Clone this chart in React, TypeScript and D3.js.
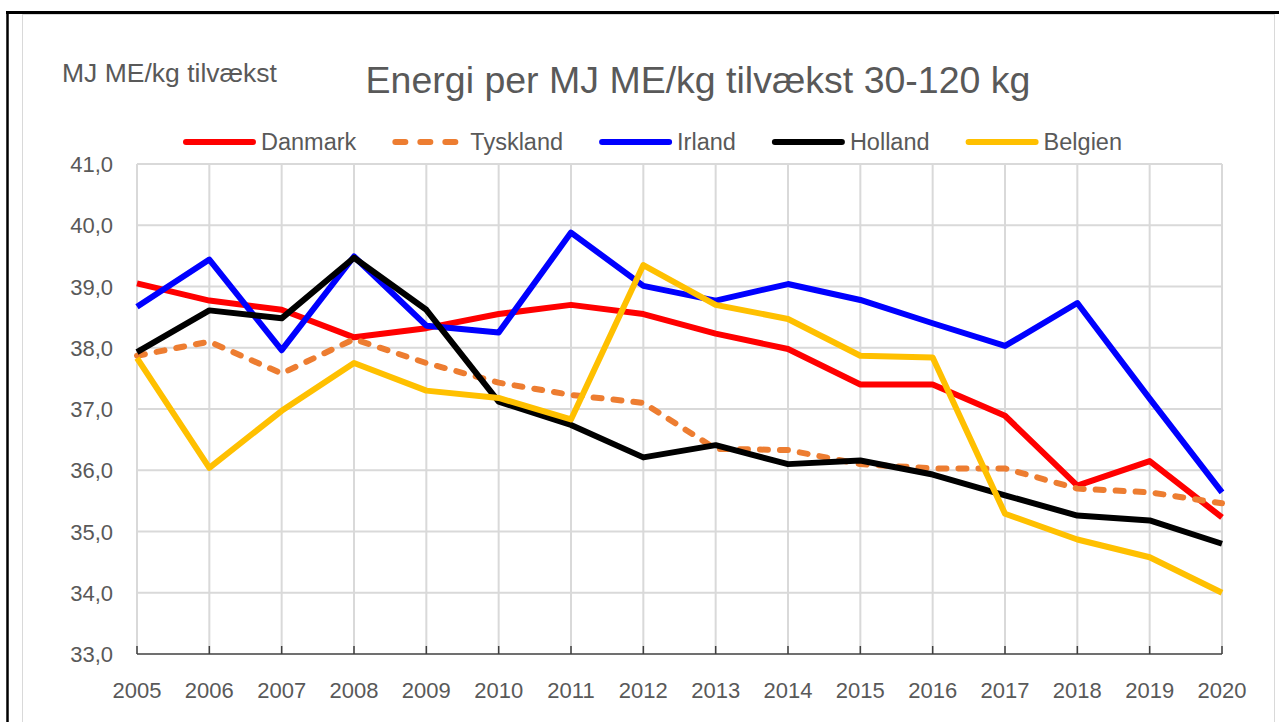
import * as React from "react";
import { useEffect, useRef } from "react";
import { select, scalePoint, scaleLinear, line } from "d3";

const years = [2005, 2006, 2007, 2008, 2009, 2010, 2011, 2012, 2013, 2014, 2015, 2016, 2017, 2018, 2019, 2020];

const danmark = [39.05, 38.77, 38.62, 38.17, 38.32, 38.55, 38.7, 38.55, 38.23, 37.98, 37.4, 37.4, 36.89, 35.75, 36.15, 35.23];
const tyskland = [37.87, 38.1, 37.58, 38.14, 37.75, 37.43, 37.23, 37.1, 36.35, 36.33, 36.1, 36.03, 36.03, 35.7, 35.64, 35.46];
const irland = [38.67, 39.44, 37.96, 39.49, 38.36, 38.25, 39.88, 39.01, 38.77, 39.04, 38.78, 38.4, 38.03, 38.73, 37.17, 35.64];
const holland = [37.93, 38.61, 38.48, 39.47, 38.62, 37.12, 36.74, 36.21, 36.41, 36.1, 36.16, 35.93, 35.59, 35.26, 35.18, 34.8];
const belgien = [37.83, 36.04, 36.97, 37.75, 37.3, 37.18, 36.83, 39.35, 38.7, 38.47, 37.87, 37.84, 35.29, 34.87, 34.58, 34.0];

const yTicks = [33, 34, 35, 36, 37, 38, 39, 40, 41];

const series = [
    {name: "Danmark", values: danmark, color: "#FF0000", dash: null},
    {name: "Tyskland", values: tyskland, color: "#ED7D31", dash: "8 12"},
    {name: "Irland", values: irland, color: "#0000FF", dash: null},
    {name: "Holland", values: holland, color: "#000000", dash: null},
    {name: "Belgien", values: belgien, color: "#FFC000", dash: null},
];

const font = "'Liberation Sans', Arial, sans-serif";
const textColor = "#595959";

const App: React.FC = () => {
    const node = useRef<SVGSVGElement>(null);
    const width = 1279, height = 722;
    const plot = {left: 137, right: 1222, top: 164, bottom: 654};

    useEffect(() => {
        if (!node.current) return;
        const svg = select(node.current);
        svg.selectAll("*").remove();

        // outer frame
        svg.append("rect").attr("x", 22.5).attr("y", 14.5).attr("width", 1252).attr("height", 720)
            .attr("fill", "#fff").attr("stroke", "#d9d9d9").attr("stroke-width", 1);
        svg.append("line").attr("x1", 6).attr("x2", width).attr("y1", 12.5).attr("y2", 12.5)
            .attr("stroke", "#000").attr("stroke-width", 3);
        svg.append("line").attr("x1", 7.5).attr("x2", 7.5).attr("y1", 11).attr("y2", height)
            .attr("stroke", "#000").attr("stroke-width", 2.5);

        const x = scalePoint<number>().domain(years).range([plot.left, plot.right]);
        const y = scaleLinear().domain([33, 41]).range([plot.bottom, plot.top]);

        const grid = svg.append("g");
        grid.selectAll("line.h").data(yTicks.slice(1)).join("line")
            .attr("x1", plot.left).attr("x2", plot.right)
            .attr("y1", d => y(d)).attr("y2", d => y(d))
            .attr("stroke", "#d9d9d9").attr("stroke-width", 2);
        grid.selectAll("line.v").data(years).join("line")
            .attr("x1", d => x(d)!).attr("x2", d => x(d)!)
            .attr("y1", plot.top).attr("y2", plot.bottom)
            .attr("stroke", "#d9d9d9").attr("stroke-width", 2);

        // x axis
        svg.append("line").attr("x1", plot.left).attr("x2", plot.right)
            .attr("y1", plot.bottom).attr("y2", plot.bottom)
            .attr("stroke", "#404040").attr("stroke-width", 1.5);
        svg.append("g").selectAll("line").data(years).join("line")
            .attr("x1", d => x(d)!).attr("x2", d => x(d)!)
            .attr("y1", plot.bottom - 8).attr("y2", plot.bottom)
            .attr("stroke", "#404040").attr("stroke-width", 1.5);

        svg.append("g").selectAll("text").data(years).join("text")
            .attr("x", d => x(d)!).attr("y", 698)
            .attr("text-anchor", "middle")
            .attr("font-family", font).attr("font-size", 22).attr("fill", textColor)
            .text(d => String(d));

        svg.append("g").selectAll("text").data(yTicks).join("text")
            .attr("x", 113).attr("y", d => y(d) + 8)
            .attr("text-anchor", "end")
            .attr("font-family", font).attr("font-size", 22).attr("fill", textColor)
            .text(d => d.toFixed(1).replace(".", ","));

        // series
        const valueLine = line<number>()
            .x((_, i) => x(years[i])!)
            .y(d => y(d));

        series.forEach(s => {
            svg.append("path")
                .datum(s.values)
                .attr("d", valueLine)
                .attr("fill", "none")
                .attr("stroke", s.color)
                .attr("stroke-width", 6)
                .attr("stroke-linejoin", "round")
                .attr("stroke-linecap", s.dash ? "round" : "butt")
                .attr("stroke-dasharray", s.dash);
        });

        // titles
        svg.append("text").attr("x", 698).attr("y", 93)
            .attr("text-anchor", "middle")
            .attr("font-family", font).attr("font-size", 37.5).attr("fill", textColor)
            .text("Energi per MJ ME/kg tilvækst 30-120 kg");
        svg.append("text").attr("x", 62).attr("y", 82)
            .attr("font-family", font).attr("font-size", 26.5).attr("fill", textColor)
            .text("MJ ME/kg tilvækst");

        // legend
        let lx = 183;
        const ly = 142;
        series.forEach(s => {
            svg.append("line")
                .attr("x1", lx + 3).attr("x2", lx + 70)
                .attr("y1", ly).attr("y2", ly)
                .attr("stroke", s.color).attr("stroke-width", 6)
                .attr("stroke-linecap", "round")
                .attr("stroke-dasharray", s.dash ? "10 15" : null);
            const t = svg.append("text")
                .attr("x", lx + 78).attr("y", ly + 8)
                .attr("font-family", font).attr("font-size", 23.5).attr("fill", textColor)
                .text(s.name);
            const w = (t.node() as SVGTextElement).getComputedTextLength();
            lx += 78 + w + 36;
        });
    }, []);

    return <svg width={width} height={height} ref={node}
                style={{position: "absolute", left: 0, top: 0, background: "#fff"}}/>;
};

export default App;
